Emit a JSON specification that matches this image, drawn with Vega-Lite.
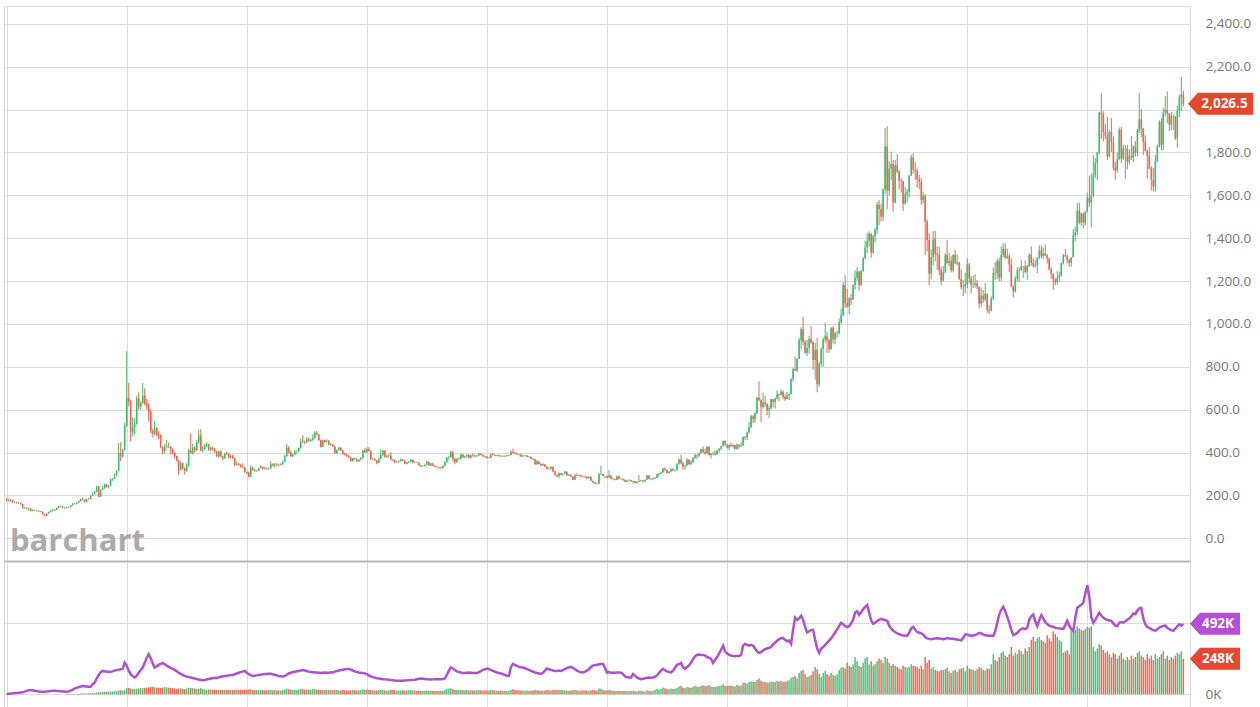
{
"$schema":"https://vega.github.io/schema/vega-lite/v6.json",
"padding":{"left":1,"top":5,"right":0,"bottom":0},
"background":"white",
"spacing":1,
"bounds":"flush",
"config":{"view":{"stroke":"#d9d9d9"},"axis":{"gridColor":"#dcdcdc","gridWidth":1,"labelFont":"Open Sans","labelFontSize":13.5,"labelColor":"#777777","ticks":false,"domain":false}},
"datasets":{"m":[
{"d":"1975-01","o":183,"h":188,"l":171,"c":176,"v":0,"i":2},
{"d":"1975-02","o":176,"h":185,"l":172,"c":181,"v":0,"i":3},
{"d":"1975-03","o":181,"h":182,"l":172,"c":178,"v":0,"i":5},
{"d":"1975-04","o":178,"h":179,"l":165,"c":167,"v":0,"i":6},
{"d":"1975-05","o":167,"h":172,"l":163,"c":168,"v":0,"i":8},
{"d":"1975-06","o":168,"h":170,"l":162,"c":165,"v":0,"i":9},
{"d":"1975-07","o":165,"h":168,"l":160,"c":166,"v":0,"i":10},
{"d":"1975-08","o":166,"h":167,"l":156,"c":160,"v":0,"i":12},
{"d":"1975-09","o":160,"h":161,"l":138,"c":142,"v":0,"i":14},
{"d":"1975-10","o":142,"h":148,"l":139,"c":143,"v":0,"i":18},
{"d":"1975-11","o":143,"h":145,"l":136,"c":139,"v":0,"i":24},
{"d":"1975-12","o":139,"h":142,"l":128,"c":140,"v":0,"i":28},
{"d":"1976-01","o":140,"h":141,"l":125,"c":128,"v":0,"i":30},
{"d":"1976-02","o":128,"h":134,"l":126,"c":132,"v":0,"i":28},
{"d":"1976-03","o":132,"h":133,"l":127,"c":129,"v":0,"i":25},
{"d":"1976-04","o":129,"h":130,"l":126,"c":128,"v":0,"i":22},
{"d":"1976-05","o":128,"h":129,"l":123,"c":126,"v":0,"i":20},
{"d":"1976-06","o":126,"h":127,"l":122,"c":124,"v":0,"i":18},
{"d":"1976-07","o":124,"h":125,"l":110,"c":112,"v":0,"i":17},
{"d":"1976-08","o":112,"h":114,"l":102,"c":104,"v":0,"i":18},
{"d":"1976-09","o":104,"h":118,"l":103,"c":116,"v":0,"i":19},
{"d":"1976-10","o":116,"h":124,"l":114,"c":123,"v":0,"i":21},
{"d":"1976-11","o":123,"h":131,"l":121,"c":130,"v":0,"i":22},
{"d":"1976-12","o":130,"h":136,"l":128,"c":134,"v":0,"i":24},
{"d":"1977-01","o":134,"h":136,"l":128,"c":132,"v":0,"i":24},
{"d":"1977-02","o":132,"h":143,"l":131,"c":142,"v":0,"i":23},
{"d":"1977-03","o":142,"h":151,"l":141,"c":149,"v":0,"i":22},
{"d":"1977-04","o":149,"h":151,"l":145,"c":148,"v":0,"i":21},
{"d":"1977-05","o":148,"h":149,"l":141,"c":143,"v":0,"i":20},
{"d":"1977-06","o":143,"h":144,"l":138,"c":141,"v":0,"i":19},
{"d":"1977-07","o":141,"h":146,"l":140,"c":145,"v":1,"i":17},
{"d":"1977-08","o":145,"h":147,"l":142,"c":146,"v":1,"i":20},
{"d":"1977-09","o":146,"h":155,"l":144,"c":154,"v":2,"i":25},
{"d":"1977-10","o":154,"h":164,"l":153,"c":162,"v":2,"i":32},
{"d":"1977-11","o":162,"h":164,"l":157,"c":161,"v":3,"i":40},
{"d":"1977-12","o":161,"h":167,"l":158,"c":165,"v":3,"i":46},
{"d":"1978-01","o":165,"h":176,"l":164,"c":173,"v":4,"i":50},
{"d":"1978-02","o":173,"h":185,"l":172,"c":183,"v":5,"i":54},
{"d":"1978-03","o":183,"h":190,"l":178,"c":181,"v":5,"i":58},
{"d":"1978-04","o":181,"h":182,"l":167,"c":170,"v":6,"i":56},
{"d":"1978-05","o":170,"h":185,"l":168,"c":184,"v":6,"i":54},
{"d":"1978-06","o":184,"h":188,"l":180,"c":183,"v":7,"i":52},
{"d":"1978-07","o":183,"h":201,"l":182,"c":200,"v":8,"i":52},
{"d":"1978-08","o":200,"h":215,"l":196,"c":208,"v":9,"i":70},
{"d":"1978-09","o":208,"h":222,"l":205,"c":217,"v":10,"i":82},
{"d":"1978-10","o":217,"h":245,"l":215,"c":242,"v":12,"i":110},
{"d":"1978-11","o":242,"h":244,"l":192,"c":194,"v":14,"i":135},
{"d":"1978-12","o":194,"h":228,"l":193,"c":226,"v":15,"i":155},
{"d":"1979-01","o":226,"h":245,"l":225,"c":233,"v":16,"i":163},
{"d":"1979-02","o":233,"h":255,"l":232,"c":251,"v":17,"i":160},
{"d":"1979-03","o":251,"h":253,"l":236,"c":240,"v":18,"i":158},
{"d":"1979-04","o":240,"h":248,"l":232,"c":245,"v":18,"i":157},
{"d":"1979-05","o":245,"h":278,"l":244,"c":275,"v":19,"i":157},
{"d":"1979-06","o":275,"h":282,"l":268,"c":277,"v":20,"i":160},
{"d":"1979-07","o":277,"h":303,"l":275,"c":296,"v":21,"i":165},
{"d":"1979-08","o":296,"h":318,"l":290,"c":315,"v":22,"i":170},
{"d":"1979-09","o":315,"h":445,"l":312,"c":397,"v":26,"i":172},
{"d":"1979-10","o":397,"h":448,"l":360,"c":382,"v":28,"i":175},
{"d":"1979-11","o":382,"h":418,"l":376,"c":415,"v":26,"i":177},
{"d":"1979-12","o":415,"h":540,"l":410,"c":524,"v":30,"i":221},
{"d":"1980-01","o":524,"h":873,"l":520,"c":653,"v":42,"i":200},
{"d":"1980-02","o":653,"h":725,"l":615,"c":637,"v":45,"i":163},
{"d":"1980-03","o":637,"h":645,"l":453,"c":494,"v":40,"i":140},
{"d":"1980-04","o":494,"h":565,"l":475,"c":518,"v":38,"i":125},
{"d":"1980-05","o":518,"h":560,"l":484,"c":535,"v":36,"i":117},
{"d":"1980-06","o":535,"h":665,"l":530,"c":653,"v":38,"i":130},
{"d":"1980-07","o":653,"h":680,"l":600,"c":614,"v":40,"i":150},
{"d":"1980-08","o":614,"h":640,"l":598,"c":631,"v":42,"i":170},
{"d":"1980-09","o":631,"h":724,"l":625,"c":666,"v":44,"i":187},
{"d":"1980-10","o":666,"h":700,"l":620,"c":629,"v":45,"i":220},
{"d":"1980-11","o":629,"h":650,"l":600,"c":619,"v":46,"i":255},
{"d":"1980-12","o":619,"h":630,"l":545,"c":590,"v":48,"i":280},
{"d":"1981-01","o":590,"h":602,"l":490,"c":500,"v":50,"i":250},
{"d":"1981-02","o":500,"h":510,"l":470,"c":489,"v":52,"i":215},
{"d":"1981-03","o":489,"h":545,"l":480,"c":514,"v":48,"i":187},
{"d":"1981-04","o":514,"h":520,"l":475,"c":482,"v":46,"i":195},
{"d":"1981-05","o":482,"h":500,"l":463,"c":480,"v":45,"i":205},
{"d":"1981-06","o":480,"h":485,"l":420,"c":426,"v":44,"i":212},
{"d":"1981-07","o":426,"h":430,"l":391,"c":406,"v":46,"i":219},
{"d":"1981-08","o":406,"h":440,"l":395,"c":425,"v":50,"i":210},
{"d":"1981-09","o":425,"h":460,"l":420,"c":428,"v":48,"i":200},
{"d":"1981-10","o":428,"h":448,"l":420,"c":427,"v":46,"i":192},
{"d":"1981-11","o":427,"h":430,"l":392,"c":414,"v":44,"i":185},
{"d":"1981-12","o":414,"h":420,"l":390,"c":400,"v":42,"i":177},
{"d":"1982-01","o":400,"h":402,"l":372,"c":384,"v":40,"i":170},
{"d":"1982-02","o":384,"h":385,"l":358,"c":362,"v":38,"i":160},
{"d":"1982-03","o":362,"h":365,"l":297,"c":320,"v":40,"i":150},
{"d":"1982-04","o":320,"h":360,"l":315,"c":350,"v":42,"i":142},
{"d":"1982-05","o":350,"h":352,"l":320,"c":325,"v":38,"i":135},
{"d":"1982-06","o":325,"h":330,"l":297,"c":315,"v":36,"i":128},
{"d":"1982-07","o":315,"h":350,"l":310,"c":342,"v":40,"i":124},
{"d":"1982-08","o":342,"h":420,"l":333,"c":411,"v":46,"i":120},
{"d":"1982-09","o":411,"h":490,"l":395,"c":397,"v":44,"i":117},
{"d":"1982-10","o":397,"h":440,"l":390,"c":423,"v":42,"i":114},
{"d":"1982-11","o":423,"h":430,"l":398,"c":411,"v":40,"i":110},
{"d":"1982-12","o":411,"h":458,"l":408,"c":448,"v":38,"i":106},
{"d":"1983-01","o":448,"h":505,"l":440,"c":480,"v":38,"i":103},
{"d":"1983-02","o":480,"h":510,"l":405,"c":409,"v":42,"i":100},
{"d":"1983-03","o":409,"h":430,"l":400,"c":414,"v":36,"i":98},
{"d":"1983-04","o":414,"h":440,"l":410,"c":430,"v":34,"i":100},
{"d":"1983-05","o":430,"h":450,"l":425,"c":438,"v":33,"i":103},
{"d":"1983-06","o":438,"h":440,"l":408,"c":412,"v":32,"i":106},
{"d":"1983-07","o":412,"h":428,"l":405,"c":422,"v":34,"i":110},
{"d":"1983-08","o":422,"h":428,"l":408,"c":416,"v":33,"i":112},
{"d":"1983-09","o":416,"h":420,"l":398,"c":405,"v":32,"i":113},
{"d":"1983-10","o":405,"h":408,"l":380,"c":382,"v":30,"i":114},
{"d":"1983-11","o":382,"h":408,"l":375,"c":405,"v":31,"i":118},
{"d":"1983-12","o":405,"h":410,"l":378,"c":382,"v":30,"i":122},
{"d":"1984-01","o":382,"h":385,"l":365,"c":373,"v":30,"i":126},
{"d":"1984-02","o":373,"h":400,"l":370,"c":395,"v":32,"i":128},
{"d":"1984-03","o":395,"h":405,"l":388,"c":394,"v":30,"i":130},
{"d":"1984-04","o":394,"h":398,"l":372,"c":377,"v":31,"i":132},
{"d":"1984-05","o":377,"h":390,"l":372,"c":385,"v":30,"i":134},
{"d":"1984-06","o":385,"h":390,"l":370,"c":373,"v":29,"i":135},
{"d":"1984-07","o":373,"h":375,"l":335,"c":342,"v":31,"i":140},
{"d":"1984-08","o":342,"h":360,"l":340,"c":348,"v":33,"i":145},
{"d":"1984-09","o":348,"h":352,"l":338,"c":343,"v":30,"i":150},
{"d":"1984-10","o":343,"h":345,"l":330,"c":333,"v":31,"i":155},
{"d":"1984-11","o":333,"h":350,"l":328,"c":329,"v":30,"i":160},
{"d":"1984-12","o":329,"h":332,"l":305,"c":309,"v":33,"i":163},
{"d":"1985-01","o":309,"h":312,"l":298,"c":306,"v":32,"i":150},
{"d":"1985-02","o":306,"h":310,"l":284,"c":287,"v":34,"i":140},
{"d":"1985-03","o":287,"h":340,"l":285,"c":330,"v":36,"i":133},
{"d":"1985-04","o":330,"h":335,"l":316,"c":321,"v":30,"i":128},
{"d":"1985-05","o":321,"h":322,"l":310,"c":316,"v":29,"i":130},
{"d":"1985-06","o":316,"h":320,"l":310,"c":317,"v":28,"i":132},
{"d":"1985-07","o":317,"h":330,"l":313,"c":327,"v":30,"i":135},
{"d":"1985-08","o":327,"h":342,"l":325,"c":333,"v":29,"i":137},
{"d":"1985-09","o":333,"h":335,"l":318,"c":326,"v":28,"i":139},
{"d":"1985-10","o":326,"h":332,"l":322,"c":325,"v":27,"i":141},
{"d":"1985-11","o":325,"h":330,"l":320,"c":324,"v":28,"i":142},
{"d":"1985-12","o":324,"h":330,"l":320,"c":327,"v":30,"i":144},
{"d":"1986-01","o":327,"h":360,"l":325,"c":345,"v":30,"i":144},
{"d":"1986-02","o":345,"h":350,"l":335,"c":339,"v":28,"i":140},
{"d":"1986-03","o":339,"h":352,"l":330,"c":345,"v":29,"i":136},
{"d":"1986-04","o":345,"h":350,"l":335,"c":344,"v":27,"i":132},
{"d":"1986-05","o":344,"h":348,"l":335,"c":343,"v":26,"i":128},
{"d":"1986-06","o":343,"h":350,"l":340,"c":346,"v":26,"i":126},
{"d":"1986-07","o":346,"h":360,"l":342,"c":357,"v":30,"i":124},
{"d":"1986-08","o":357,"h":390,"l":355,"c":384,"v":34,"i":128},
{"d":"1986-09","o":384,"h":440,"l":380,"c":423,"v":40,"i":136},
{"d":"1986-10","o":423,"h":430,"l":395,"c":401,"v":36,"i":145},
{"d":"1986-11","o":401,"h":410,"l":380,"c":383,"v":32,"i":150},
{"d":"1986-12","o":383,"h":395,"l":378,"c":391,"v":30,"i":155},
{"d":"1987-01","o":391,"h":412,"l":390,"c":405,"v":32,"i":158},
{"d":"1987-02","o":405,"h":410,"l":395,"c":406,"v":30,"i":160},
{"d":"1987-03","o":406,"h":422,"l":402,"c":421,"v":33,"i":163},
{"d":"1987-04","o":421,"h":465,"l":418,"c":452,"v":38,"i":166},
{"d":"1987-05","o":452,"h":480,"l":445,"c":451,"v":36,"i":169},
{"d":"1987-06","o":451,"h":455,"l":440,"c":447,"v":32,"i":166},
{"d":"1987-07","o":447,"h":472,"l":445,"c":462,"v":34,"i":162},
{"d":"1987-08","o":462,"h":470,"l":450,"c":453,"v":33,"i":158},
{"d":"1987-09","o":453,"h":465,"l":450,"c":459,"v":32,"i":155},
{"d":"1987-10","o":459,"h":485,"l":455,"c":468,"v":36,"i":154},
{"d":"1987-11","o":468,"h":500,"l":465,"c":492,"v":35,"i":152},
{"d":"1987-12","o":492,"h":502,"l":480,"c":484,"v":33,"i":152},
{"d":"1988-01","o":484,"h":485,"l":455,"c":458,"v":34,"i":150},
{"d":"1988-02","o":458,"h":460,"l":424,"c":426,"v":32,"i":148},
{"d":"1988-03","o":426,"h":460,"l":425,"c":457,"v":30,"i":150},
{"d":"1988-04","o":457,"h":460,"l":445,"c":450,"v":29,"i":152},
{"d":"1988-05","o":450,"h":462,"l":448,"c":455,"v":28,"i":150},
{"d":"1988-06","o":455,"h":458,"l":435,"c":436,"v":30,"i":151},
{"d":"1988-07","o":436,"h":445,"l":430,"c":437,"v":29,"i":153},
{"d":"1988-08","o":437,"h":440,"l":425,"c":428,"v":28,"i":152},
{"d":"1988-09","o":428,"h":430,"l":395,"c":397,"v":30,"i":158},
{"d":"1988-10","o":397,"h":415,"l":394,"c":412,"v":29,"i":162},
{"d":"1988-11","o":412,"h":428,"l":410,"c":422,"v":28,"i":166},
{"d":"1988-12","o":422,"h":425,"l":408,"c":410,"v":27,"i":170},
{"d":"1989-01","o":410,"h":412,"l":390,"c":394,"v":30,"i":172},
{"d":"1989-02","o":394,"h":398,"l":385,"c":388,"v":28,"i":174},
{"d":"1989-03","o":388,"h":395,"l":380,"c":383,"v":27,"i":176},
{"d":"1989-04","o":383,"h":390,"l":375,"c":377,"v":26,"i":177},
{"d":"1989-05","o":377,"h":380,"l":355,"c":361,"v":27,"i":172},
{"d":"1989-06","o":361,"h":375,"l":358,"c":373,"v":29,"i":166},
{"d":"1989-07","o":373,"h":376,"l":365,"c":368,"v":28,"i":160},
{"d":"1989-08","o":368,"h":372,"l":355,"c":359,"v":27,"i":155},
{"d":"1989-09","o":359,"h":368,"l":355,"c":367,"v":28,"i":152},
{"d":"1989-10","o":367,"h":380,"l":364,"c":375,"v":29,"i":150},
{"d":"1989-11","o":375,"h":412,"l":373,"c":409,"v":33,"i":149},
{"d":"1989-12","o":409,"h":420,"l":398,"c":401,"v":32,"i":146},
{"d":"1990-01","o":401,"h":424,"l":398,"c":415,"v":34,"i":140},
{"d":"1990-02","o":415,"h":425,"l":405,"c":407,"v":30,"i":132},
{"d":"1990-03","o":407,"h":410,"l":365,"c":368,"v":31,"i":125},
{"d":"1990-04","o":368,"h":375,"l":365,"c":369,"v":28,"i":120},
{"d":"1990-05","o":369,"h":375,"l":360,"c":363,"v":27,"i":116},
{"d":"1990-06","o":363,"h":365,"l":345,"c":352,"v":26,"i":112},
{"d":"1990-07","o":352,"h":375,"l":350,"c":372,"v":30,"i":110},
{"d":"1990-08","o":372,"h":415,"l":370,"c":387,"v":34,"i":108},
{"d":"1990-09","o":387,"h":412,"l":385,"c":408,"v":30,"i":105},
{"d":"1990-10","o":408,"h":412,"l":375,"c":380,"v":28,"i":104},
{"d":"1990-11","o":380,"h":390,"l":375,"c":384,"v":27,"i":103},
{"d":"1990-12","o":384,"h":392,"l":375,"c":386,"v":26,"i":102},
{"d":"1991-01","o":386,"h":403,"l":365,"c":366,"v":32,"i":100},
{"d":"1991-02","o":366,"h":370,"l":358,"c":363,"v":30,"i":98},
{"d":"1991-03","o":363,"h":368,"l":350,"c":355,"v":28,"i":96},
{"d":"1991-04","o":355,"h":362,"l":352,"c":357,"v":27,"i":95},
{"d":"1991-05","o":357,"h":364,"l":354,"c":360,"v":26,"i":94},
{"d":"1991-06","o":360,"h":372,"l":358,"c":368,"v":27,"i":94},
{"d":"1991-07","o":368,"h":372,"l":360,"c":362,"v":28,"i":95},
{"d":"1991-08","o":362,"h":364,"l":345,"c":347,"v":26,"i":96},
{"d":"1991-09","o":347,"h":357,"l":345,"c":354,"v":27,"i":97},
{"d":"1991-10","o":354,"h":362,"l":352,"c":357,"v":28,"i":98},
{"d":"1991-11","o":357,"h":370,"l":355,"c":366,"v":29,"i":99},
{"d":"1991-12","o":366,"h":367,"l":350,"c":353,"v":27,"i":100},
{"d":"1992-01","o":353,"h":360,"l":350,"c":354,"v":26,"i":102},
{"d":"1992-02","o":354,"h":358,"l":350,"c":353,"v":25,"i":105},
{"d":"1992-03","o":353,"h":355,"l":338,"c":341,"v":24,"i":108},
{"d":"1992-04","o":341,"h":342,"l":333,"c":336,"v":23,"i":110},
{"d":"1992-05","o":336,"h":340,"l":334,"c":337,"v":22,"i":108},
{"d":"1992-06","o":337,"h":345,"l":335,"c":343,"v":23,"i":106},
{"d":"1992-07","o":343,"h":362,"l":341,"c":357,"v":26,"i":105},
{"d":"1992-08","o":357,"h":358,"l":338,"c":340,"v":24,"i":104},
{"d":"1992-09","o":340,"h":352,"l":338,"c":349,"v":25,"i":103},
{"d":"1992-10","o":349,"h":350,"l":337,"c":339,"v":24,"i":104},
{"d":"1992-11","o":339,"h":340,"l":332,"c":334,"v":23,"i":105},
{"d":"1992-12","o":334,"h":337,"l":330,"c":333,"v":22,"i":106},
{"d":"1993-01","o":333,"h":335,"l":326,"c":330,"v":22,"i":105},
{"d":"1993-02","o":330,"h":334,"l":326,"c":327,"v":23,"i":105},
{"d":"1993-03","o":327,"h":340,"l":326,"c":337,"v":24,"i":106},
{"d":"1993-04","o":337,"h":360,"l":336,"c":354,"v":30,"i":110},
{"d":"1993-05","o":354,"h":380,"l":352,"c":377,"v":38,"i":135},
{"d":"1993-06","o":377,"h":384,"l":366,"c":378,"v":40,"i":165},
{"d":"1993-07","o":378,"h":410,"l":376,"c":401,"v":42,"i":187},
{"d":"1993-08","o":401,"h":408,"l":360,"c":371,"v":36,"i":180},
{"d":"1993-09","o":371,"h":375,"l":345,"c":355,"v":32,"i":170},
{"d":"1993-10","o":355,"h":375,"l":352,"c":370,"v":30,"i":160},
{"d":"1993-11","o":370,"h":378,"l":366,"c":371,"v":28,"i":155},
{"d":"1993-12","o":371,"h":393,"l":368,"c":391,"v":30,"i":152},
{"d":"1994-01","o":391,"h":394,"l":375,"c":377,"v":30,"i":149},
{"d":"1994-02","o":377,"h":385,"l":373,"c":381,"v":28,"i":148},
{"d":"1994-03","o":381,"h":392,"l":378,"c":389,"v":29,"i":150},
{"d":"1994-04","o":389,"h":392,"l":372,"c":376,"v":27,"i":152},
{"d":"1994-05","o":376,"h":390,"l":374,"c":387,"v":28,"i":150},
{"d":"1994-06","o":387,"h":395,"l":380,"c":385,"v":27,"i":148},
{"d":"1994-07","o":385,"h":390,"l":378,"c":384,"v":26,"i":148},
{"d":"1994-08","o":384,"h":388,"l":377,"c":386,"v":28,"i":149},
{"d":"1994-09","o":386,"h":398,"l":385,"c":394,"v":29,"i":155},
{"d":"1994-10","o":394,"h":397,"l":386,"c":389,"v":28,"i":162},
{"d":"1994-11","o":389,"h":392,"l":380,"c":383,"v":27,"i":170},
{"d":"1994-12","o":383,"h":385,"l":376,"c":382,"v":26,"i":175},
{"d":"1995-01","o":382,"h":384,"l":372,"c":375,"v":26,"i":180},
{"d":"1995-02","o":375,"h":380,"l":372,"c":376,"v":27,"i":175},
{"d":"1995-03","o":376,"h":395,"l":375,"c":392,"v":32,"i":170},
{"d":"1995-04","o":392,"h":397,"l":386,"c":389,"v":28,"i":163},
{"d":"1995-05","o":389,"h":392,"l":383,"c":385,"v":26,"i":158},
{"d":"1995-06","o":385,"h":390,"l":383,"c":387,"v":27,"i":152},
{"d":"1995-07","o":387,"h":390,"l":381,"c":383,"v":25,"i":148},
{"d":"1995-08","o":383,"h":388,"l":380,"c":382,"v":26,"i":145},
{"d":"1995-09","o":382,"h":387,"l":380,"c":384,"v":25,"i":140},
{"d":"1995-10","o":384,"h":387,"l":380,"c":383,"v":24,"i":135},
{"d":"1995-11","o":383,"h":390,"l":382,"c":387,"v":25,"i":130},
{"d":"1995-12","o":387,"h":390,"l":384,"c":388,"v":24,"i":128},
{"d":"1996-01","o":388,"h":410,"l":386,"c":405,"v":32,"i":190},
{"d":"1996-02","o":405,"h":418,"l":395,"c":400,"v":36,"i":212},
{"d":"1996-03","o":400,"h":402,"l":392,"c":396,"v":30,"i":205},
{"d":"1996-04","o":396,"h":400,"l":389,"c":392,"v":28,"i":198},
{"d":"1996-05","o":392,"h":395,"l":388,"c":391,"v":27,"i":192},
{"d":"1996-06","o":391,"h":392,"l":380,"c":382,"v":26,"i":188},
{"d":"1996-07","o":382,"h":389,"l":380,"c":385,"v":27,"i":187},
{"d":"1996-08","o":385,"h":390,"l":383,"c":386,"v":25,"i":182},
{"d":"1996-09","o":386,"h":388,"l":378,"c":379,"v":26,"i":176},
{"d":"1996-10","o":379,"h":385,"l":376,"c":380,"v":25,"i":170},
{"d":"1996-11","o":380,"h":382,"l":370,"c":371,"v":26,"i":164},
{"d":"1996-12","o":371,"h":374,"l":365,"c":369,"v":27,"i":158},
{"d":"1997-01","o":369,"h":370,"l":343,"c":345,"v":30,"i":152},
{"d":"1997-02","o":345,"h":365,"l":342,"c":358,"v":28,"i":148},
{"d":"1997-03","o":358,"h":360,"l":345,"c":348,"v":27,"i":145},
{"d":"1997-04","o":348,"h":349,"l":338,"c":340,"v":25,"i":142},
{"d":"1997-05","o":340,"h":350,"l":339,"c":345,"v":26,"i":150},
{"d":"1997-06","o":345,"h":347,"l":333,"c":334,"v":27,"i":165},
{"d":"1997-07","o":334,"h":336,"l":320,"c":326,"v":30,"i":180},
{"d":"1997-08","o":326,"h":333,"l":320,"c":325,"v":28,"i":175},
{"d":"1997-09","o":325,"h":337,"l":320,"c":332,"v":27,"i":170},
{"d":"1997-10","o":332,"h":336,"l":308,"c":311,"v":30,"i":166},
{"d":"1997-11","o":311,"h":315,"l":293,"c":296,"v":32,"i":163},
{"d":"1997-12","o":296,"h":298,"l":283,"c":290,"v":30,"i":162},
{"d":"1998-01","o":290,"h":308,"l":280,"c":303,"v":32,"i":165},
{"d":"1998-02","o":303,"h":306,"l":292,"c":297,"v":30,"i":163},
{"d":"1998-03","o":297,"h":302,"l":292,"c":301,"v":28,"i":168},
{"d":"1998-04","o":301,"h":315,"l":300,"c":310,"v":27,"i":175},
{"d":"1998-05","o":310,"h":312,"l":292,"c":293,"v":26,"i":182},
{"d":"1998-06","o":293,"h":300,"l":290,"c":296,"v":25,"i":188},
{"d":"1998-07","o":296,"h":298,"l":286,"c":288,"v":27,"i":191},
{"d":"1998-08","o":288,"h":290,"l":271,"c":273,"v":28,"i":185},
{"d":"1998-09","o":273,"h":300,"l":272,"c":294,"v":30,"i":175},
{"d":"1998-10","o":294,"h":304,"l":290,"c":292,"v":28,"i":165},
{"d":"1998-11","o":292,"h":298,"l":290,"c":294,"v":26,"i":158},
{"d":"1998-12","o":294,"h":297,"l":285,"c":288,"v":27,"i":153},
{"d":"1999-01","o":288,"h":293,"l":283,"c":287,"v":26,"i":152},
{"d":"1999-02","o":287,"h":292,"l":282,"c":286,"v":27,"i":158},
{"d":"1999-03","o":286,"h":290,"l":278,"c":279,"v":26,"i":165},
{"d":"1999-04","o":279,"h":290,"l":278,"c":286,"v":25,"i":175},
{"d":"1999-05","o":286,"h":290,"l":267,"c":268,"v":28,"i":190},
{"d":"1999-06","o":268,"h":268,"l":257,"c":261,"v":30,"i":200},
{"d":"1999-07","o":261,"h":262,"l":252,"c":255,"v":28,"i":205},
{"d":"1999-08","o":255,"h":258,"l":252,"c":254,"v":27,"i":205},
{"d":"1999-09","o":254,"h":305,"l":253,"c":299,"v":40,"i":210},
{"d":"1999-10","o":299,"h":339,"l":295,"c":300,"v":38,"i":212},
{"d":"1999-11","o":300,"h":302,"l":288,"c":291,"v":30,"i":212},
{"d":"1999-12","o":291,"h":293,"l":279,"c":290,"v":27,"i":185},
{"d":"2000-01","o":290,"h":292,"l":280,"c":283,"v":27,"i":152},
{"d":"2000-02","o":283,"h":317,"l":282,"c":293,"v":30,"i":156},
{"d":"2000-03","o":293,"h":294,"l":277,"c":278,"v":26,"i":150},
{"d":"2000-04","o":278,"h":283,"l":273,"c":275,"v":24,"i":152},
{"d":"2000-05","o":275,"h":278,"l":270,"c":272,"v":23,"i":150},
{"d":"2000-06","o":272,"h":293,"l":271,"c":288,"v":25,"i":152},
{"d":"2000-07","o":288,"h":292,"l":275,"c":276,"v":24,"i":152},
{"d":"2000-08","o":276,"h":280,"l":272,"c":278,"v":22,"i":150},
{"d":"2000-09","o":278,"h":279,"l":268,"c":273,"v":23,"i":140},
{"d":"2000-10","o":273,"h":274,"l":263,"c":264,"v":22,"i":125},
{"d":"2000-11","o":264,"h":272,"l":262,"c":270,"v":21,"i":120},
{"d":"2000-12","o":270,"h":275,"l":267,"c":272,"v":22,"i":117},
{"d":"2001-01","o":272,"h":273,"l":263,"c":265,"v":22,"i":117},
{"d":"2001-02","o":265,"h":269,"l":255,"c":267,"v":24,"i":142},
{"d":"2001-03","o":267,"h":268,"l":255,"c":258,"v":21,"i":130},
{"d":"2001-04","o":258,"h":266,"l":255,"c":264,"v":20,"i":118},
{"d":"2001-05","o":264,"h":295,"l":262,"c":267,"v":24,"i":110},
{"d":"2001-06","o":267,"h":273,"l":265,"c":270,"v":22,"i":105},
{"d":"2001-07","o":270,"h":272,"l":262,"c":265,"v":21,"i":108},
{"d":"2001-08","o":265,"h":275,"l":264,"c":273,"v":20,"i":112},
{"d":"2001-09","o":273,"h":295,"l":270,"c":293,"v":28,"i":115},
{"d":"2001-10","o":293,"h":294,"l":275,"c":278,"v":24,"i":117},
{"d":"2001-11","o":278,"h":280,"l":272,"c":275,"v":22,"i":115},
{"d":"2001-12","o":275,"h":282,"l":272,"c":279,"v":24,"i":117},
{"d":"2002-01","o":279,"h":285,"l":276,"c":282,"v":30,"i":122},
{"d":"2002-02","o":282,"h":300,"l":281,"c":297,"v":38,"i":132},
{"d":"2002-03","o":297,"h":305,"l":288,"c":302,"v":34,"i":150},
{"d":"2002-04","o":302,"h":310,"l":300,"c":308,"v":36,"i":165},
{"d":"2002-05","o":308,"h":328,"l":306,"c":326,"v":48,"i":177},
{"d":"2002-06","o":326,"h":330,"l":315,"c":318,"v":42,"i":168},
{"d":"2002-07","o":318,"h":320,"l":302,"c":304,"v":38,"i":160},
{"d":"2002-08","o":304,"h":315,"l":302,"c":312,"v":35,"i":155},
{"d":"2002-09","o":312,"h":326,"l":310,"c":324,"v":40,"i":152},
{"d":"2002-10","o":324,"h":325,"l":312,"c":316,"v":36,"i":165},
{"d":"2002-11","o":316,"h":320,"l":312,"c":317,"v":38,"i":185},
{"d":"2002-12","o":317,"h":350,"l":316,"c":348,"v":45,"i":205},
{"d":"2003-01","o":348,"h":372,"l":343,"c":368,"v":55,"i":210},
{"d":"2003-02","o":368,"h":390,"l":345,"c":350,"v":60,"i":219},
{"d":"2003-03","o":350,"h":355,"l":320,"c":336,"v":48,"i":190},
{"d":"2003-04","o":336,"h":342,"l":320,"c":339,"v":44,"i":177},
{"d":"2003-05","o":339,"h":375,"l":338,"c":365,"v":50,"i":190},
{"d":"2003-06","o":365,"h":372,"l":341,"c":346,"v":48,"i":200},
{"d":"2003-07","o":346,"h":365,"l":340,"c":354,"v":46,"i":220},
{"d":"2003-08","o":354,"h":378,"l":352,"c":375,"v":52,"i":245},
{"d":"2003-09","o":375,"h":395,"l":370,"c":388,"v":58,"i":265},
{"d":"2003-10","o":388,"h":392,"l":370,"c":386,"v":55,"i":275},
{"d":"2003-11","o":386,"h":400,"l":378,"c":398,"v":50,"i":278},
{"d":"2003-12","o":398,"h":418,"l":395,"c":416,"v":60,"i":275},
{"d":"2004-01","o":416,"h":428,"l":398,"c":402,"v":62,"i":275},
{"d":"2004-02","o":402,"h":418,"l":390,"c":397,"v":58,"i":270},
{"d":"2004-03","o":397,"h":430,"l":394,"c":427,"v":60,"i":260},
{"d":"2004-04","o":427,"h":428,"l":385,"c":388,"v":65,"i":255},
{"d":"2004-05","o":388,"h":397,"l":372,"c":395,"v":55,"i":247},
{"d":"2004-06","o":395,"h":405,"l":386,"c":396,"v":50,"i":219},
{"d":"2004-07","o":396,"h":410,"l":387,"c":391,"v":52,"i":240},
{"d":"2004-08","o":391,"h":412,"l":390,"c":409,"v":56,"i":260},
{"d":"2004-09","o":409,"h":420,"l":398,"c":418,"v":60,"i":285},
{"d":"2004-10","o":418,"h":432,"l":410,"c":429,"v":62,"i":310},
{"d":"2004-11","o":429,"h":456,"l":428,"c":453,"v":70,"i":339},
{"d":"2004-12","o":453,"h":458,"l":432,"c":438,"v":60,"i":300},
{"d":"2005-01","o":438,"h":440,"l":418,"c":422,"v":58,"i":285},
{"d":"2005-02","o":422,"h":438,"l":412,"c":435,"v":62,"i":275},
{"d":"2005-03","o":435,"h":446,"l":425,"c":429,"v":60,"i":270},
{"d":"2005-04","o":429,"h":438,"l":422,"c":435,"v":58,"i":268},
{"d":"2005-05","o":435,"h":436,"l":414,"c":417,"v":55,"i":265},
{"d":"2005-06","o":417,"h":443,"l":414,"c":437,"v":65,"i":268},
{"d":"2005-07","o":437,"h":438,"l":418,"c":429,"v":60,"i":268},
{"d":"2005-08","o":429,"h":448,"l":425,"c":433,"v":62,"i":275},
{"d":"2005-09","o":433,"h":475,"l":432,"c":473,"v":80,"i":340},
{"d":"2005-10","o":473,"h":478,"l":458,"c":470,"v":78,"i":352},
{"d":"2005-11","o":470,"h":498,"l":458,"c":495,"v":75,"i":345},
{"d":"2005-12","o":495,"h":542,"l":488,"c":518,"v":85,"i":340},
{"d":"2006-01","o":518,"h":575,"l":515,"c":569,"v":90,"i":345},
{"d":"2006-02","o":569,"h":575,"l":537,"c":556,"v":85,"i":339},
{"d":"2006-03","o":556,"h":590,"l":540,"c":583,"v":88,"i":320},
{"d":"2006-04","o":583,"h":660,"l":580,"c":655,"v":100,"i":300},
{"d":"2006-05","o":655,"h":732,"l":640,"c":644,"v":110,"i":289},
{"d":"2006-06","o":644,"h":650,"l":543,"c":614,"v":95,"i":295},
{"d":"2006-07","o":614,"h":680,"l":605,"c":633,"v":88,"i":305},
{"d":"2006-08","o":633,"h":665,"l":612,"c":626,"v":85,"i":315},
{"d":"2006-09","o":626,"h":630,"l":575,"c":598,"v":82,"i":320},
{"d":"2006-10","o":598,"h":620,"l":560,"c":606,"v":84,"i":325},
{"d":"2006-11","o":606,"h":650,"l":600,"c":648,"v":90,"i":331},
{"d":"2006-12","o":648,"h":650,"l":610,"c":636,"v":86,"i":350},
{"d":"2007-01","o":636,"h":655,"l":605,"c":652,"v":85,"i":360},
{"d":"2007-02","o":652,"h":690,"l":648,"c":672,"v":92,"i":375},
{"d":"2007-03","o":672,"h":675,"l":640,"c":669,"v":90,"i":385},
{"d":"2007-04","o":669,"h":695,"l":665,"c":683,"v":95,"i":390},
{"d":"2007-05","o":683,"h":690,"l":650,"c":659,"v":88,"i":394},
{"d":"2007-06","o":659,"h":672,"l":640,"c":650,"v":85,"i":380},
{"d":"2007-07","o":650,"h":683,"l":648,"c":666,"v":92,"i":370},
{"d":"2007-08","o":666,"h":675,"l":645,"c":673,"v":98,"i":375},
{"d":"2007-09","o":673,"h":745,"l":670,"c":743,"v":115,"i":352},
{"d":"2007-10","o":743,"h":795,"l":730,"c":790,"v":120,"i":450},
{"d":"2007-11","o":790,"h":848,"l":780,"c":783,"v":125,"i":536},
{"d":"2007-12","o":783,"h":840,"l":775,"c":838,"v":110,"i":520},
{"d":"2008-01","o":838,"h":935,"l":835,"c":924,"v":150,"i":530},
{"d":"2008-02","o":924,"h":985,"l":880,"c":975,"v":160,"i":548},
{"d":"2008-03","o":975,"h":1033,"l":902,"c":916,"v":170,"i":520},
{"d":"2008-04","o":916,"h":925,"l":860,"c":865,"v":140,"i":470},
{"d":"2008-05","o":865,"h":925,"l":850,"c":888,"v":120,"i":432},
{"d":"2008-06","o":888,"h":945,"l":862,"c":930,"v":125,"i":440},
{"d":"2008-07","o":930,"h":990,"l":905,"c":913,"v":135,"i":448},
{"d":"2008-08","o":913,"h":920,"l":786,"c":832,"v":160,"i":450},
{"d":"2008-09","o":832,"h":912,"l":740,"c":880,"v":190,"i":380},
{"d":"2008-10","o":880,"h":935,"l":681,"c":718,"v":175,"i":320},
{"d":"2008-11","o":718,"h":825,"l":705,"c":814,"v":145,"i":289},
{"d":"2008-12","o":814,"h":890,"l":800,"c":884,"v":120,"i":320},
{"d":"2009-01","o":884,"h":935,"l":800,"c":928,"v":150,"i":330},
{"d":"2009-02","o":928,"h":1006,"l":915,"c":942,"v":165,"i":345},
{"d":"2009-03","o":942,"h":965,"l":865,"c":924,"v":140,"i":359},
{"d":"2009-04","o":924,"h":930,"l":865,"c":884,"v":130,"i":375},
{"d":"2009-05","o":884,"h":985,"l":878,"c":980,"v":150,"i":390},
{"d":"2009-06","o":980,"h":990,"l":908,"c":927,"v":135,"i":410},
{"d":"2009-07","o":927,"h":965,"l":904,"c":955,"v":130,"i":430},
{"d":"2009-08","o":955,"h":966,"l":935,"c":956,"v":140,"i":455},
{"d":"2009-09","o":956,"h":1025,"l":950,"c":1008,"v":170,"i":478},
{"d":"2009-10","o":1008,"h":1072,"l":1000,"c":1040,"v":185,"i":500},
{"d":"2009-11","o":1040,"h":1195,"l":1035,"c":1182,"v":190,"i":490},
{"d":"2009-12","o":1182,"h":1227,"l":1075,"c":1097,"v":180,"i":476},
{"d":"2010-01","o":1097,"h":1163,"l":1075,"c":1081,"v":220,"i":470},
{"d":"2010-02","o":1081,"h":1125,"l":1045,"c":1118,"v":200,"i":476},
{"d":"2010-03","o":1118,"h":1140,"l":1088,"c":1113,"v":190,"i":495},
{"d":"2010-04","o":1113,"h":1185,"l":1112,"c":1180,"v":210,"i":520},
{"d":"2010-05","o":1180,"h":1250,"l":1160,"c":1215,"v":260,"i":569},
{"d":"2010-06","o":1215,"h":1266,"l":1200,"c":1244,"v":230,"i":580},
{"d":"2010-07","o":1244,"h":1245,"l":1155,"c":1181,"v":200,"i":555},
{"d":"2010-08","o":1181,"h":1250,"l":1175,"c":1248,"v":190,"i":575},
{"d":"2010-09","o":1248,"h":1310,"l":1242,"c":1307,"v":220,"i":595},
{"d":"2010-10","o":1307,"h":1388,"l":1300,"c":1357,"v":250,"i":610},
{"d":"2010-11","o":1357,"h":1425,"l":1330,"c":1386,"v":260,"i":623},
{"d":"2010-12","o":1386,"h":1432,"l":1360,"c":1421,"v":210,"i":570},
{"d":"2011-01","o":1421,"h":1425,"l":1309,"c":1333,"v":230,"i":515},
{"d":"2011-02","o":1333,"h":1414,"l":1326,"c":1410,"v":200,"i":492},
{"d":"2011-03","o":1410,"h":1448,"l":1380,"c":1439,"v":210,"i":500},
{"d":"2011-04","o":1439,"h":1569,"l":1420,"c":1556,"v":230,"i":512},
{"d":"2011-05","o":1556,"h":1578,"l":1462,"c":1536,"v":250,"i":520},
{"d":"2011-06","o":1536,"h":1560,"l":1478,"c":1500,"v":240,"i":527},
{"d":"2011-07","o":1500,"h":1632,"l":1480,"c":1628,"v":220,"i":522},
{"d":"2011-08","o":1628,"h":1913,"l":1605,"c":1828,"v":260,"i":518},
{"d":"2011-09","o":1828,"h":1923,"l":1535,"c":1620,"v":250,"i":513},
{"d":"2011-10","o":1620,"h":1760,"l":1600,"c":1725,"v":220,"i":480},
{"d":"2011-11","o":1725,"h":1804,"l":1670,"c":1746,"v":200,"i":460},
{"d":"2011-12","o":1746,"h":1764,"l":1523,"c":1566,"v":210,"i":443},
{"d":"2012-01","o":1566,"h":1765,"l":1562,"c":1740,"v":200,"i":435},
{"d":"2012-02","o":1740,"h":1792,"l":1703,"c":1711,"v":190,"i":425},
{"d":"2012-03","o":1711,"h":1720,"l":1627,"c":1669,"v":180,"i":420},
{"d":"2012-04","o":1669,"h":1680,"l":1612,"c":1664,"v":175,"i":415},
{"d":"2012-05","o":1664,"h":1668,"l":1527,"c":1562,"v":200,"i":410},
{"d":"2012-06","o":1562,"h":1640,"l":1555,"c":1604,"v":190,"i":410},
{"d":"2012-07","o":1604,"h":1630,"l":1565,"c":1615,"v":185,"i":408},
{"d":"2012-08","o":1615,"h":1693,"l":1590,"c":1692,"v":190,"i":430},
{"d":"2012-09","o":1692,"h":1790,"l":1690,"c":1776,"v":210,"i":460},
{"d":"2012-10","o":1776,"h":1798,"l":1700,"c":1719,"v":200,"i":471},
{"d":"2012-11","o":1719,"h":1755,"l":1671,"c":1713,"v":195,"i":450},
{"d":"2012-12","o":1713,"h":1725,"l":1636,"c":1675,"v":190,"i":435},
{"d":"2013-01","o":1675,"h":1696,"l":1627,"c":1663,"v":180,"i":430},
{"d":"2013-02","o":1663,"h":1680,"l":1555,"c":1578,"v":200,"i":425},
{"d":"2013-03","o":1578,"h":1617,"l":1562,"c":1595,"v":175,"i":418},
{"d":"2013-04","o":1595,"h":1605,"l":1321,"c":1476,"v":260,"i":400},
{"d":"2013-05","o":1476,"h":1488,"l":1338,"c":1392,"v":220,"i":390},
{"d":"2013-06","o":1392,"h":1424,"l":1180,"c":1234,"v":240,"i":387},
{"d":"2013-07","o":1234,"h":1348,"l":1208,"c":1312,"v":180,"i":385},
{"d":"2013-08","o":1312,"h":1433,"l":1272,"c":1395,"v":190,"i":388},
{"d":"2013-09","o":1395,"h":1434,"l":1292,"c":1327,"v":170,"i":390},
{"d":"2013-10","o":1327,"h":1362,"l":1251,"c":1323,"v":165,"i":392},
{"d":"2013-11","o":1323,"h":1361,"l":1227,"c":1250,"v":160,"i":390},
{"d":"2013-12","o":1250,"h":1267,"l":1182,"c":1202,"v":170,"i":388},
{"d":"2014-01","o":1202,"h":1270,"l":1197,"c":1240,"v":170,"i":385},
{"d":"2014-02","o":1240,"h":1332,"l":1238,"c":1321,"v":175,"i":388},
{"d":"2014-03","o":1321,"h":1392,"l":1277,"c":1284,"v":185,"i":392},
{"d":"2014-04","o":1284,"h":1331,"l":1268,"c":1295,"v":160,"i":390},
{"d":"2014-05","o":1295,"h":1316,"l":1240,"c":1250,"v":150,"i":388},
{"d":"2014-06","o":1250,"h":1325,"l":1240,"c":1322,"v":165,"i":387},
{"d":"2014-07","o":1322,"h":1345,"l":1281,"c":1282,"v":170,"i":385},
{"d":"2014-08","o":1282,"h":1324,"l":1273,"c":1287,"v":155,"i":383},
{"d":"2014-09","o":1287,"h":1288,"l":1204,"c":1210,"v":175,"i":380},
{"d":"2014-10","o":1210,"h":1255,"l":1161,"c":1171,"v":180,"i":377},
{"d":"2014-11","o":1171,"h":1205,"l":1130,"c":1175,"v":185,"i":395},
{"d":"2014-12","o":1175,"h":1239,"l":1142,"c":1184,"v":160,"i":418},
{"d":"2015-01","o":1184,"h":1307,"l":1167,"c":1278,"v":200,"i":418},
{"d":"2015-02","o":1278,"h":1284,"l":1191,"c":1212,"v":180,"i":412},
{"d":"2015-03","o":1212,"h":1224,"l":1142,"c":1183,"v":175,"i":408},
{"d":"2015-04","o":1183,"h":1225,"l":1167,"c":1184,"v":170,"i":410},
{"d":"2015-05","o":1184,"h":1232,"l":1168,"c":1190,"v":165,"i":415},
{"d":"2015-06","o":1190,"h":1205,"l":1162,"c":1172,"v":175,"i":420},
{"d":"2015-07","o":1172,"h":1175,"l":1072,"c":1095,"v":190,"i":429},
{"d":"2015-08","o":1095,"h":1170,"l":1080,"c":1132,"v":185,"i":425},
{"d":"2015-09","o":1132,"h":1158,"l":1098,"c":1115,"v":170,"i":418},
{"d":"2015-10","o":1115,"h":1191,"l":1105,"c":1141,"v":165,"i":412},
{"d":"2015-11","o":1141,"h":1142,"l":1052,"c":1064,"v":180,"i":410},
{"d":"2015-12","o":1064,"h":1088,"l":1046,"c":1060,"v":175,"i":408},
{"d":"2016-01","o":1060,"h":1128,"l":1058,"c":1118,"v":210,"i":410},
{"d":"2016-02","o":1118,"h":1263,"l":1110,"c":1238,"v":280,"i":408},
{"d":"2016-03","o":1238,"h":1287,"l":1206,"c":1235,"v":240,"i":440},
{"d":"2016-04","o":1235,"h":1305,"l":1208,"c":1293,"v":230,"i":500},
{"d":"2016-05","o":1293,"h":1306,"l":1199,"c":1215,"v":260,"i":557},
{"d":"2016-06","o":1215,"h":1362,"l":1200,"c":1321,"v":290,"i":590},
{"d":"2016-07","o":1321,"h":1377,"l":1310,"c":1350,"v":300,"i":611},
{"d":"2016-08","o":1350,"h":1375,"l":1301,"c":1309,"v":270,"i":580},
{"d":"2016-09","o":1309,"h":1352,"l":1303,"c":1317,"v":260,"i":540},
{"d":"2016-10","o":1317,"h":1326,"l":1241,"c":1277,"v":280,"i":500},
{"d":"2016-11","o":1277,"h":1307,"l":1171,"c":1173,"v":330,"i":450},
{"d":"2016-12","o":1173,"h":1180,"l":1123,"c":1152,"v":270,"i":413},
{"d":"2017-01","o":1152,"h":1222,"l":1146,"c":1211,"v":290,"i":420},
{"d":"2017-02","o":1211,"h":1264,"l":1200,"c":1252,"v":280,"i":430},
{"d":"2017-03","o":1252,"h":1264,"l":1196,"c":1251,"v":310,"i":445},
{"d":"2017-04","o":1251,"h":1297,"l":1245,"c":1268,"v":300,"i":455},
{"d":"2017-05","o":1268,"h":1271,"l":1214,"c":1269,"v":280,"i":460},
{"d":"2017-06","o":1269,"h":1297,"l":1236,"c":1242,"v":320,"i":455},
{"d":"2017-07","o":1242,"h":1275,"l":1205,"c":1270,"v":300,"i":464},
{"d":"2017-08","o":1270,"h":1331,"l":1266,"c":1322,"v":330,"i":520},
{"d":"2017-09","o":1322,"h":1362,"l":1271,"c":1284,"v":380,"i":545},
{"d":"2017-10","o":1284,"h":1306,"l":1262,"c":1271,"v":400,"i":557},
{"d":"2017-11","o":1271,"h":1299,"l":1264,"c":1276,"v":370,"i":510},
{"d":"2017-12","o":1276,"h":1312,"l":1236,"c":1309,"v":390,"i":476},
{"d":"2018-01","o":1309,"h":1366,"l":1302,"c":1343,"v":400,"i":520},
{"d":"2018-02","o":1343,"h":1365,"l":1307,"c":1318,"v":380,"i":553},
{"d":"2018-03","o":1318,"h":1357,"l":1303,"c":1327,"v":370,"i":530},
{"d":"2018-04","o":1327,"h":1369,"l":1315,"c":1319,"v":360,"i":505},
{"d":"2018-05","o":1319,"h":1326,"l":1282,"c":1305,"v":410,"i":490},
{"d":"2018-06","o":1305,"h":1309,"l":1250,"c":1254,"v":390,"i":480},
{"d":"2018-07","o":1254,"h":1266,"l":1211,"c":1233,"v":370,"i":475},
{"d":"2018-08","o":1233,"h":1236,"l":1160,"c":1207,"v":440,"i":471},
{"d":"2018-09","o":1207,"h":1215,"l":1180,"c":1196,"v":420,"i":465},
{"d":"2018-10","o":1196,"h":1246,"l":1182,"c":1215,"v":400,"i":462},
{"d":"2018-11","o":1215,"h":1243,"l":1196,"c":1226,"v":380,"i":460},
{"d":"2018-12","o":1226,"h":1287,"l":1221,"c":1282,"v":370,"i":458},
{"d":"2019-01","o":1282,"h":1326,"l":1277,"c":1321,"v":290,"i":457},
{"d":"2019-02","o":1321,"h":1349,"l":1311,"c":1316,"v":300,"i":485},
{"d":"2019-03","o":1316,"h":1324,"l":1281,"c":1298,"v":310,"i":513},
{"d":"2019-04","o":1298,"h":1304,"l":1266,"c":1284,"v":280,"i":480},
{"d":"2019-05","o":1284,"h":1306,"l":1267,"c":1311,"v":440,"i":455},
{"d":"2019-06","o":1311,"h":1442,"l":1309,"c":1413,"v":460,"i":443},
{"d":"2019-07","o":1413,"h":1453,"l":1385,"c":1427,"v":450,"i":530},
{"d":"2019-08","o":1427,"h":1565,"l":1412,"c":1529,"v":475,"i":604},
{"d":"2019-09","o":1529,"h":1566,"l":1465,"c":1473,"v":460,"i":615},
{"d":"2019-10","o":1473,"h":1520,"l":1458,"c":1514,"v":450,"i":625},
{"d":"2019-11","o":1514,"h":1518,"l":1446,"c":1473,"v":445,"i":639},
{"d":"2019-12","o":1473,"h":1526,"l":1459,"c":1523,"v":455,"i":700},
{"d":"2020-01","o":1523,"h":1612,"l":1520,"c":1589,"v":470,"i":761},
{"d":"2020-02","o":1589,"h":1692,"l":1547,"c":1566,"v":465,"i":680},
{"d":"2020-03","o":1566,"h":1704,"l":1451,"c":1597,"v":475,"i":540},
{"d":"2020-04","o":1597,"h":1788,"l":1589,"c":1694,"v":330,"i":499},
{"d":"2020-05","o":1694,"h":1775,"l":1681,"c":1751,"v":300,"i":520},
{"d":"2020-06","o":1751,"h":1802,"l":1670,"c":1800,"v":320,"i":545},
{"d":"2020-07","o":1800,"h":1990,"l":1790,"c":1986,"v":350,"i":569},
{"d":"2020-08","o":1986,"h":2075,"l":1863,"c":1978,"v":340,"i":550},
{"d":"2020-09","o":1978,"h":1992,"l":1851,"c":1895,"v":310,"i":535},
{"d":"2020-10","o":1895,"h":1933,"l":1860,"c":1879,"v":290,"i":525},
{"d":"2020-11","o":1879,"h":1966,"l":1764,"c":1781,"v":300,"i":520},
{"d":"2020-12","o":1781,"h":1906,"l":1776,"c":1895,"v":280,"i":515},
{"d":"2021-01","o":1895,"h":1960,"l":1802,"c":1850,"v":260,"i":513},
{"d":"2021-02","o":1850,"h":1875,"l":1717,"c":1729,"v":290,"i":495},
{"d":"2021-03","o":1729,"h":1756,"l":1673,"c":1716,"v":280,"i":480},
{"d":"2021-04","o":1716,"h":1798,"l":1705,"c":1768,"v":250,"i":476},
{"d":"2021-05","o":1768,"h":1916,"l":1765,"c":1906,"v":270,"i":500},
{"d":"2021-06","o":1906,"h":1919,"l":1750,"c":1771,"v":290,"i":505},
{"d":"2021-07","o":1771,"h":1836,"l":1765,"c":1817,"v":250,"i":500},
{"d":"2021-08","o":1817,"h":1834,"l":1677,"c":1818,"v":240,"i":510},
{"d":"2021-09","o":1818,"h":1836,"l":1721,"c":1757,"v":260,"i":520},
{"d":"2021-10","o":1757,"h":1814,"l":1746,"c":1784,"v":240,"i":530},
{"d":"2021-11","o":1784,"h":1878,"l":1764,"c":1776,"v":270,"i":545},
{"d":"2021-12","o":1776,"h":1832,"l":1753,"c":1829,"v":250,"i":564},
{"d":"2022-01","o":1829,"h":1853,"l":1781,"c":1797,"v":260,"i":560},
{"d":"2022-02","o":1797,"h":1910,"l":1781,"c":1900,"v":290,"i":585},
{"d":"2022-03","o":1900,"h":2078,"l":1890,"c":1954,"v":300,"i":600},
{"d":"2022-04","o":1954,"h":2003,"l":1872,"c":1911,"v":270,"i":604},
{"d":"2022-05","o":1911,"h":1915,"l":1787,"c":1849,"v":260,"i":530},
{"d":"2022-06","o":1849,"h":1880,"l":1805,"c":1807,"v":240,"i":490},
{"d":"2022-07","o":1807,"h":1814,"l":1678,"c":1782,"v":280,"i":470},
{"d":"2022-08","o":1782,"h":1825,"l":1720,"c":1726,"v":250,"i":464},
{"d":"2022-09","o":1726,"h":1735,"l":1623,"c":1672,"v":270,"i":455},
{"d":"2022-10","o":1672,"h":1729,"l":1617,"c":1640,"v":240,"i":448},
{"d":"2022-11","o":1640,"h":1787,"l":1616,"c":1759,"v":280,"i":443},
{"d":"2022-12","o":1759,"h":1836,"l":1754,"c":1826,"v":250,"i":455},
{"d":"2023-01","o":1826,"h":1950,"l":1823,"c":1942,"v":260,"i":465},
{"d":"2023-02","o":1942,"h":1960,"l":1810,"c":1836,"v":280,"i":472},
{"d":"2023-03","o":1836,"h":2009,"l":1809,"c":1986,"v":300,"i":478},
{"d":"2023-04","o":1986,"h":2063,"l":1969,"c":1999,"v":250,"i":480},
{"d":"2023-05","o":1999,"h":2085,"l":1937,"c":1982,"v":270,"i":465},
{"d":"2023-06","o":1982,"h":1985,"l":1900,"c":1929,"v":240,"i":455},
{"d":"2023-07","o":1929,"h":1990,"l":1903,"c":1970,"v":260,"i":448},
{"d":"2023-08","o":1970,"h":1977,"l":1904,"c":1966,"v":250,"i":443},
{"d":"2023-09","o":1966,"h":1970,"l":1858,"c":1866,"v":270,"i":460},
{"d":"2023-10","o":1866,"h":2019,"l":1823,"c":1994,"v":290,"i":475},
{"d":"2023-11","o":1994,"h":2070,"l":1965,"c":2057,"v":280,"i":488},
{"d":"2023-12","o":2057,"h":2152,"l":1992,"c":2071,"v":300,"i":480},
{"d":"2024-01","o":2071,"h":2088,"l":2014,"c":2026.5,"v":248,"i":492}
]},
"vconcat":[
{
"width":1186,"height":555,
"data":{"name":"m"},
"layer":[
{"mark":{"type":"rule","strokeWidth":1},
 "encoding":{
  "x":{"field":"d","type":"temporal","title":null,"scale":{"type":"utc","padding":0,"domain":[{"year":1974,"month":11,"date":22,"utc":true},{"year":2024,"month":4,"date":11,"utc":true}]},
       "axis":{"values":[{"year":1975,"utc":true},{"year":1980,"utc":true},{"year":1985,"utc":true},{"year":1990,"utc":true},{"year":1995,"utc":true},{"year":2000,"utc":true},{"year":2005,"utc":true},{"year":2010,"utc":true},{"year":2015,"utc":true},{"year":2020,"utc":true}],"grid":true,"labels":false,"ticks":false,"domain":true,"domainColor":"#b9b9b9","domainWidth":2}},
  "y":{"field":"l","type":"quantitative","title":null,"scale":{"domain":[-106,2483],"nice":false,"zero":false},
       "axis":{"orient":"right","values":[0,200,400,600,800,1000,1200,1400,1600,1800,2000,2200,2400],"labelExpr":"datum.value == 2000 ? '' : format(datum.value, ',.1f')","labelPadding":15,"grid":true,"labelAlign":"left"}},
  "y2":{"field":"h"},
  "color":{"condition":{"test":"datum.c >= datum.o","value":"#3fbe6f"},"value":"#ef6650"}
 }},
{"mark":{"type":"bar","size":1.6},
 "encoding":{
  "x":{"field":"d","type":"temporal"},
  "y":{"field":"o","type":"quantitative"},
  "y2":{"field":"c"},
  "color":{"condition":{"test":"datum.c >= datum.o","value":"#3fbe6f"},"value":"#ef6650"}
 }},
{"data":{"values":[{"t":"barchart"}]},
 "mark":{"type":"text","font":"Open Sans","fontSize":31,"fontWeight":"bold","color":"#ababab","align":"left","baseline":"alphabetic"},
 "encoding":{"x":{"datum":{"year":1975,"month":2,"date":21,"utc":true},"type":"temporal"},"y":{"datum":-59,"type":"quantitative"},"text":{"field":"t"}}},
{"data":{"values":[{"p":2026.5,"t":"2,026.5"}]},
 "layer":[
  {"mark":{"type":"point","shape":"M-1,0L-0.7,-0.338L1,-0.338L1,0.338L-0.7,0.338Z","filled":true,"size":4225,"opacity":1,"color":"#e4472c"},
   "encoding":{"x":{"datum":{"year":2025,"month":7,"date":19,"utc":true},"type":"temporal"},"y":{"field":"p","type":"quantitative"}}},
  {"mark":{"type":"text","font":"Open Sans","fontSize":13.5,"fontWeight":"bold","color":"white","align":"center","baseline":"middle","dx":4},
   "encoding":{"x":{"datum":{"year":2025,"month":7,"date":19,"utc":true},"type":"temporal"},"y":{"field":"p","type":"quantitative"},"text":{"field":"t"}}}
 ]}
]
},
{
"width":1186,"height":146,
"data":{"name":"m"},
"layer":[
{"mark":{"type":"bar","size":1.5},
 "encoding":{
  "x":{"field":"d","type":"temporal","title":null,"scale":{"type":"utc","padding":0,"domain":[{"year":1974,"month":11,"date":22,"utc":true},{"year":2024,"month":4,"date":11,"utc":true}]},
       "axis":{"values":[{"year":1975,"utc":true},{"year":1980,"utc":true},{"year":1985,"utc":true},{"year":1990,"utc":true},{"year":1995,"utc":true},{"year":2000,"utc":true},{"year":2005,"utc":true},{"year":2010,"utc":true},{"year":2015,"utc":true},{"year":2020,"utc":true}],"grid":true,"labels":false,"ticks":false,"domain":false}},
  "y":{"field":"v","type":"quantitative","title":null,"scale":{"domain":[-96,924],"nice":false,"zero":false},
       "axis":{"orient":"right","values":[0,500],"labelExpr":"datum.value == 0 ? '0K' : ''","labelPadding":15,"grid":true,"labelAlign":"left"}},
  "y2":{"datum":0},
  "color":{"condition":{"test":"datum.c >= datum.o","value":"#4cc27e"},"value":"#f26a55"}
 }},
{"mark":{"type":"line","color":"#b04fd0","strokeWidth":2.5},
 "encoding":{"x":{"field":"d","type":"temporal"},"y":{"field":"i","type":"quantitative"}}},
{"data":{"values":[{"v":492,"t":"492K","k":"oi"},{"v":248,"t":"248K","k":"vol"}]},
 "layer":[
  {"mark":{"type":"point","shape":"M-1,0L-0.6,-0.44L1,-0.44L1,0.44L-0.6,0.44Z","filled":true,"size":2500,"opacity":1},
   "encoding":{"x":{"datum":{"year":2025,"month":4,"date":26,"utc":true},"type":"temporal"},"y":{"field":"v","type":"quantitative"},
     "color":{"field":"k","type":"nominal","scale":{"domain":["oi","vol"],"range":["#b64fd6","#e8472f"]},"legend":null}}},
  {"mark":{"type":"text","font":"Open Sans","fontSize":13.5,"fontWeight":"bold","color":"white","align":"center","baseline":"middle","dx":3},
   "encoding":{"x":{"datum":{"year":2025,"month":4,"date":26,"utc":true},"type":"temporal"},"y":{"field":"v","type":"quantitative"},"text":{"field":"t"}}}
 ]}
]
}
]
}
